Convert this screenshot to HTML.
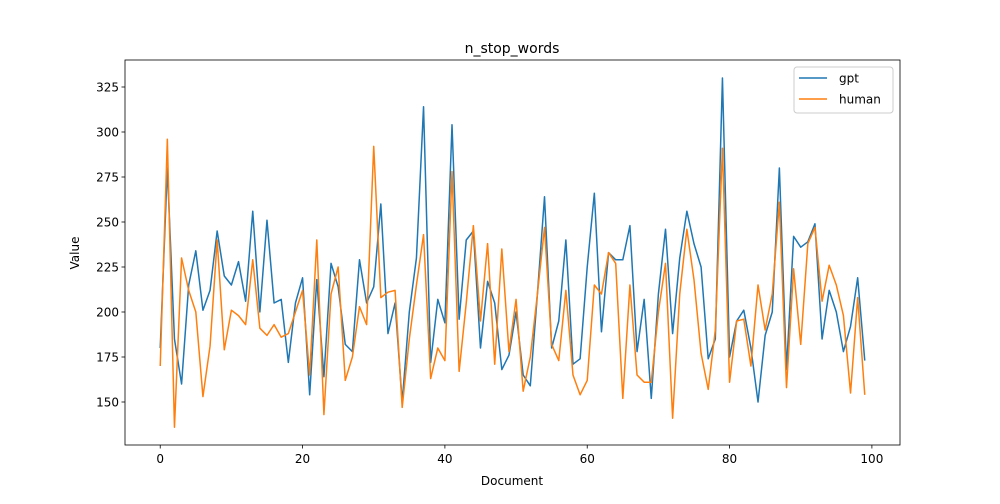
<!DOCTYPE html>
<html><head><meta charset="utf-8"><style>
body{margin:0;background:#fff;font-family:"DejaVu Sans","Liberation Sans",sans-serif}
</style></head><body>
<svg width="1000" height="500" viewBox="0 0 1000 500" font-family="DejaVu Sans, Liberation Sans, sans-serif">
<rect width="1000" height="500" fill="#fff"/>
<text x="512" y="53" text-anchor="middle" font-size="14">n_stop_words</text>
<g id="g" font-size="12"></g>
</svg>
<script>
const xTicks=[0,20,40,60,80,100];
const yTicks=[150,175,200,225,250,275,300,325];
const gpt=[180,280,185,160,215,234,201,212,245,220,215,228,206,256,200,251,205,207,172,205,219,154,218,164,227,214,182,178,229,205,214,260,188,205,150,200,230,314,172,207,194,304,196,240,245,180,217,205,168,176,200,165,159,210,264,180,195,240,171,174,225,266,189,233,229,229,248,178,207,152,210,246,188,230,256,238,225,174,185,330,175,195,201,180,150,187,200,280,168,242,236,239,249,185,212,200,178,192,219,173];
const human=[170,296,136,230,212,200,153,181,240,179,201,198,193,229,191,187,193,186,188,200,212,165,240,143,210,225,162,175,203,193,292,208,211,212,147,185,215,243,163,180,173,278,167,205,248,195,238,171,235,178,207,156,175,210,247,182,173,212,165,154,162,215,210,233,227,152,215,165,161,161,200,227,141,210,246,218,177,157,190,291,161,195,196,170,215,190,210,261,158,224,182,238,247,206,226,215,198,155,208,154];
const L=125,R=900,T=60,B=445;
const xs=v=>L+(v+4.95)*(R-L)/108.9;
const ys=v=>402-(v-150)*1.8;
const g=document.getElementById('g');
const NS='http://www.w3.org/2000/svg';
function mk(t,a,txt){const e=document.createElementNS(NS,t);for(const k in a)e.setAttribute(k,a[k]);if(txt!==undefined)e.textContent=txt;g.appendChild(e);return e;}
function line(arr,color,name){
  const p=mk('polyline',{points:arr.map((v,i)=>xs(i).toFixed(2)+','+ys(v).toFixed(2)).join(' '),fill:'none',stroke:color,'stroke-width':1.5,'stroke-linejoin':'round'});
  
  
}
line(gpt,'#1f77b4','gpt-line');
line(human,'#ff7f0e','human-line');
const fr=mk('rect',{x:L,y:T,width:R-L,height:B-T,fill:'none',stroke:'#000','stroke-width':0.8});


xTicks.forEach(t=>{
  const x=xs(t);
  mk('line',{x1:x,x2:x,y1:B,y2:B+3.5,stroke:'#000','stroke-width':0.8});
  const e=mk('text',{x:x,y:B+18,'text-anchor':'middle'},t);
  
  
});
yTicks.forEach(t=>{
  const y=ys(t);
  mk('line',{x1:L-3.5,x2:L,y1:y,y2:y,stroke:'#000','stroke-width':0.8});
  const e=mk('text',{x:L-6,y:y+4.5,'text-anchor':'end'},t);
  
  
});
const xt=mk('text',{x:512,y:485,'text-anchor':'middle'},'Document');


const yt=mk('text',{x:79,y:253,'text-anchor':'middle',transform:'rotate(-90 79 253)'},'Value');


const lg=mk('rect',{x:794,y:67,width:99,height:46,rx:3,fill:'#fff',stroke:'#ccc','stroke-width':1});


mk('line',{x1:799,x2:827,y1:78,y2:78,stroke:'#1f77b4','stroke-width':1.5});
const l1=mk('text',{x:839,y:82.5},'gpt');


mk('line',{x1:799,x2:827,y1:99,y2:99,stroke:'#ff7f0e','stroke-width':1.5});
const l2=mk('text',{x:839,y:103.5},'human');


</script>
</body></html>
